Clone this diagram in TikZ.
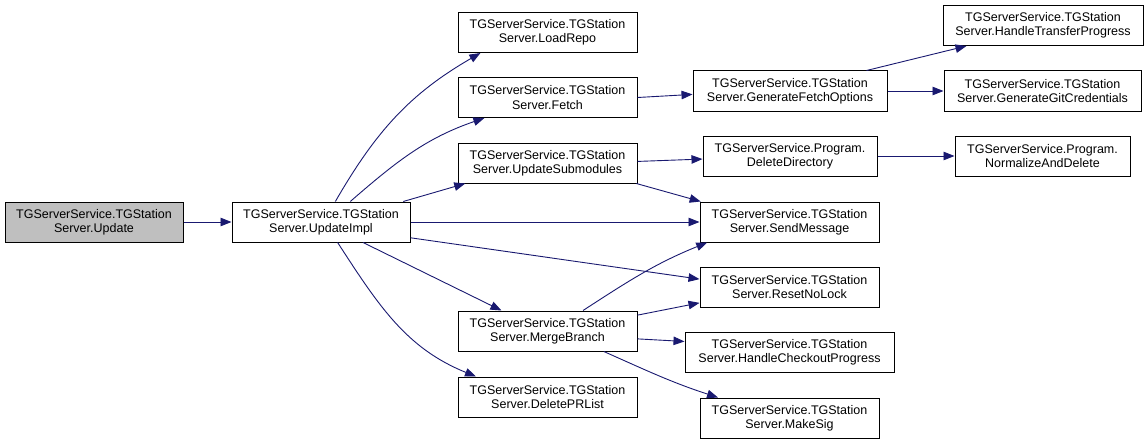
\documentclass[tikz,border=0pt]{standalone}
\usepackage{fontspec}
\setmainfont{Liberation Sans}
\usepackage{xcolor}
\usetikzlibrary{arrows.meta}
\definecolor{edgeblue}{HTML}{191970}
\tikzset{
  box/.style  ={draw=black,fill=white,line width=1pt,minimum height=40pt,inner sep=0pt,
                align=center,font=\fontsize{12.5}{14.3}\selectfont},
  root/.style ={box,fill=black!25},
  call/.style ={-{Triangle[length=11pt,width=8.5pt]},edgeblue,line width=0.9pt},
}

\begin{document}
\begin{tikzpicture}[x=1pt,y=1pt]
  \useasboundingbox (0,0) rectangle (1148,-444);
  % caller and first level
  \node[root,minimum width=178pt] (update) at (94,-222) {TGServerService.TGStation\\Server.Update};
  \node[box,minimum width=178pt] (impl) at (321,-222) {TGServerService.TGStation\\Server.UpdateImpl};
  % second column
  \node[box,minimum width=179pt] (load)   at (547.5,-32.5) {TGServerService.TGStation\\Server.LoadRepo};
  \node[box,minimum width=179pt] (fetch)  at (547.5,-97.5) {TGServerService.TGStation\\Server.Fetch};
  \node[box,minimum width=179pt] (subm)   at (547.5,-163)  {TGServerService.TGStation\\Server.UpdateSubmodules};
  \node[box,minimum width=179pt] (merge)  at (547.5,-331)  {TGServerService.TGStation\\Server.MergeBranch};
  \node[box,minimum width=179pt] (prlist) at (547.5,-397)  {TGServerService.TGStation\\Server.DeletePRList};
  % third column
  \node[box,minimum width=194pt] (genfetch) at (790,-91)    {TGServerService.TGStation\\Server.GenerateFetchOptions};
  \node[box,minimum width=174pt] (deldir)   at (790,-156)   {TGServerService.Program.\\DeleteDirectory};
  \node[box,minimum width=179pt] (send)     at (789.5,-222) {TGServerService.TGStation\\Server.SendMessage};
  \node[box,minimum width=179pt] (reset)    at (789.5,-287) {TGServerService.TGStation\\Server.ResetNoLock};
  \node[box,minimum width=209pt] (checkout) at (789.5,-352.5) {TGServerService.TGStation\\Server.HandleCheckoutProgress};
  \node[box,minimum width=179pt] (makesig)  at (789.5,-418) {TGServerService.TGStation\\Server.MakeSig};
  % fourth column
  \node[box,minimum width=200pt] (transfer) at (1043,-25.5)  {TGServerService.TGStation\\Server.HandleTransferProgress};
  \node[box,minimum width=197pt] (gitcred)  at (1042.5,-91)  {TGServerService.TGStation\\Server.GenerateGitCredentials};
  \node[box,minimum width=175pt] (normdel)  at (1042.5,-156) {TGServerService.Program.\\NormalizeAndDelete};

  % calls
  \draw[call] (update) -- (impl);
  \draw[call] (impl.55) to[out=60,in=210] (load.197);
  \draw[call] (impl.35) to[out=41,in=199] (fetch.198);
  \draw[call] (impl.14) -- (subm.194);
  \draw[call] (impl.east) -- (send.west);
  \draw[call] (impl.-10) -- (reset.175);
  \draw[call] (impl.-26) -- (merge.156);
  \draw[call] (impl.-51) to[out=-57,in=158] (prlist.164);
  \draw[call] (fetch.east) -- (genfetch.182);
  \draw[call] (genfetch.15) -- (transfer.195);
  \draw[call] (genfetch) -- (gitcred);
  \draw[call] (subm.1) -- (deldir.182);
  \draw[call] (subm.-13) -- (send.167);
  \draw[call] (deldir) -- (normdel);
  \draw[call] (merge.30) to[out=33,in=202] (send.194);
  \draw[call] (merge.10) -- (reset.190);
  \draw[call] (merge.-5) -- (checkout.174);
  \draw[call] (merge.-20) to[out=-24,in=162] (makesig.164);
\end{tikzpicture}
\end{document}
